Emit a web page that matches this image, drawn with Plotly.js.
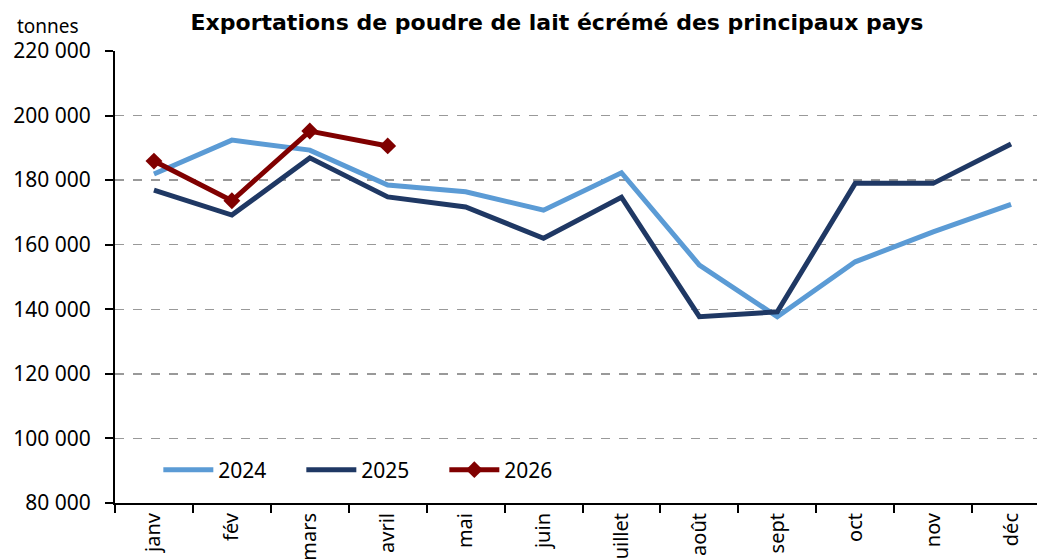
<!DOCTYPE html>
<html>
<head>
<meta charset="utf-8">
<script src="https://cdn.plot.ly/plotly-3.0.1.min.js"></script>
<style>html,body{margin:0;padding:0;background:#fff;}#chart{width:1037px;height:560px;}</style>
</head>
<body>
<div id="chart"></div>
<script>
const months = ["janv","fév","mars","avril","mai","juin","juillet","août","sept","oct","nov","déc"];
const y2024 = [181900,192400,189300,178500,176400,170700,182300,153700,137700,154700,164000,172500];
const y2025 = [176900,169200,186900,174800,171700,162000,174700,137700,139200,179000,179000,191200];
const y2026 = [185900,173600,195200,190600];
const months2026 = months.slice(0, y2026.length);

const FONT = "Noto Sans, DejaVu Sans, sans-serif";

const traces = [
  {x: months, y: y2024, name: "2024", type: "scatter", mode: "lines",
   line: {color: "#5B9BD5", width: 5}},
  {x: months, y: y2025, name: "2025", type: "scatter", mode: "lines",
   line: {color: "#1F3864", width: 5}},
  {x: months2026, y: y2026, name: "2026", type: "scatter", mode: "lines+markers",
   line: {color: "#800000", width: 5},
   marker: {symbol: "diamond", size: 13, color: "#800000"}}
];

const layout = {
  width: 1037, height: 560,
  margin: {l: 114.5, r: 0, t: 51, b: 57},
  paper_bgcolor: "#fff", plot_bgcolor: "#fff",
  separators: ", ",
  font: {family: FONT, size: 20, color: "#000"},
  showlegend: true,
  title: {text: "Exportations de poudre de lait écrémé des principaux pays",
          font: {family: "DejaVu Sans, Noto Sans, sans-serif", size: 22, weight: "bold", color: "#000"},
          x: 557/1037, xanchor: "center", xref: "container", y: 1 - 22/560, yanchor: "middle"},
  xaxis: {type: "category", range: [-0.5, 11.333], tickangle: -90,
          tickson: "boundaries", ticks: "outside", ticklen: 8, tickwidth: 2, tickcolor: "#000",
          showline: true, linecolor: "#000", linewidth: 2, showgrid: false, zeroline: false,
          tickfont: {family: FONT, size: 20, color: "#000"}, fixedrange: true},
  yaxis: {range: [80000, 220000], dtick: 20000, tick0: 0, tickformat: ",d",
          ticks: "outside", ticklen: 8, tickwidth: 2, tickcolor: "#000",
          ticklabelstandoff: 10,
          showline: true, linecolor: "#000", linewidth: 2,
          showgrid: true, gridcolor: "#999", gridwidth: 1.5, griddash: "dash", zeroline: false,
          tickfont: {family: FONT, size: 21, color: "#000"}, fixedrange: true},
  legend: {orientation: "h", x: 0.047, xanchor: "left", y: 0.073, yanchor: "middle",
           bgcolor: "rgba(0,0,0,0)", font: {family: FONT, size: 21, color: "#000"},
           itemwidth: 50, entrywidth: 78, entrywidthmode: "pixels", traceorder: "normal"},
  annotations: [
    {text: "tonnes", xref: "paper", yref: "paper", x: -0.109, y: 1 + 25/452, xanchor: "left",
     yanchor: "middle", showarrow: false, font: {family: FONT, size: 19, color: "#000"}}
  ]
};

Plotly.newPlot("chart", traces, layout, {displayModeBar: false, staticPlot: true});
</script>
</body>
</html>
